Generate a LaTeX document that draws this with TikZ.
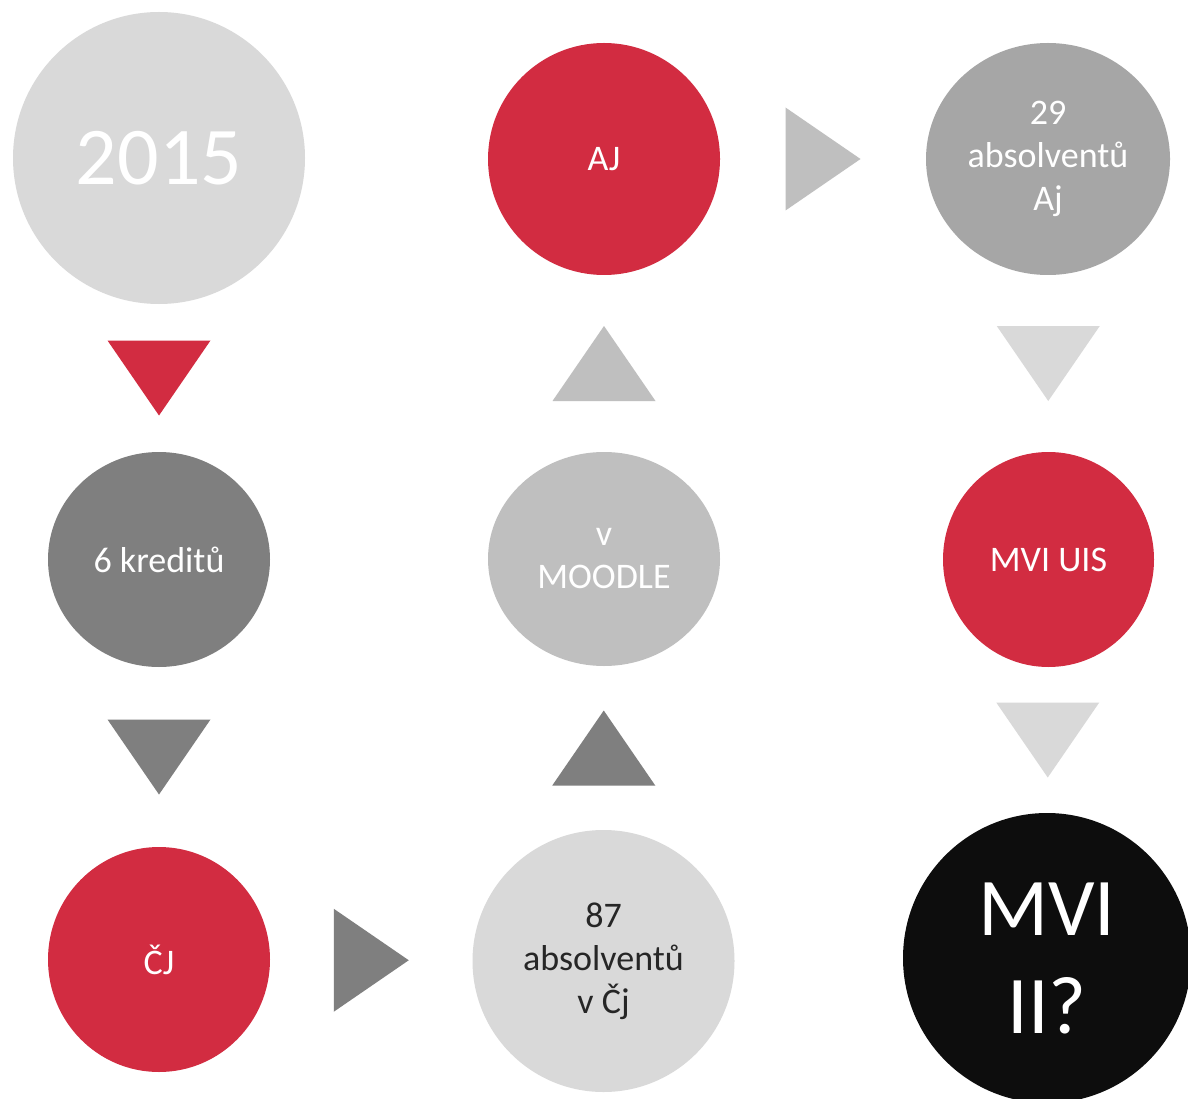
\documentclass[tikz,border=0pt]{standalone}
\usepackage{fontspec}
\setmainfont{Carlito}
\usetikzlibrary{shapes.geometric,calc}
\definecolor{cred}{RGB}{210,44,65}
\definecolor{clight}{HTML}{D9D9D9}
\definecolor{cmid}{HTML}{A6A6A6}
\definecolor{csilver}{HTML}{BFBFBF}
\definecolor{cdark}{HTML}{7F7F7F}
\definecolor{cblack}{HTML}{0D0D0D}
\definecolor{ctext}{HTML}{262626}
\newcommand{\arrowtri}[3]{%
  \fill[#1, shift={#2}, rotate=#3] (-51.5,-37.5) -- (51.5,-37.5) -- (0,37.5) -- cycle;}
\begin{document}
\begin{tikzpicture}[x=1pt,y=-1pt,
  circ/.style={ellipse, inner sep=0pt, align=center, text=white,
    font=\fontsize{36}{43}\selectfont},
  bigcirc/.style={circ, font=\fontsize{82}{98}\selectfont}]
\path[use as bounding box, fill=white] (0,0) rectangle (1188,1099);
\clip (0,0) rectangle (1188,1099);

\node[bigcirc, fill=clight, minimum width=292pt, minimum height=292pt] (y2015) at (159,158) {2015};
\node[circ, fill=cred, minimum width=232pt, minimum height=232pt] (aj) at (604,159) {AJ};
\node[circ, fill=cmid, minimum width=244pt, minimum height=232pt] (a29) at (1048,159) {29\\absolventů\\Aj};
\node[circ, fill=cdark, minimum width=222pt, minimum height=215pt] (kr) at (159,559.5) {6 kreditů};
\node[circ, fill=csilver, minimum width=232pt, minimum height=214pt] (moodle) at (604,559) {v\\MOODLE};
\node[circ, fill=cred, minimum width=211pt, minimum height=215pt] (uis) at (1048.5,559.5) {MVI UIS};
\node[circ, fill=cred, minimum width=222pt, minimum height=225pt] (cj) at (159,959.5) {ČJ};
\node[circ, fill=clight, text=ctext, minimum width=262pt, minimum height=262pt] (a87) at (603.5,961) {87\\absolventů\\v Čj};
\node[bigcirc, fill=cblack, minimum width=288pt, minimum height=290pt] (mvi) at (1047,958) {MVI\\II?};

\arrowtri{cred}{($(y2015.south)!0.5!(kr.north)$)}{0}
\arrowtri{cdark}{($(kr.south)!0.5!(cj.north)$)}{0}
\arrowtri{cdark}{($(cj.east)!0.5!(a87.west)$)}{90}
\arrowtri{cdark}{($(a87.north)!0.5!(moodle.south)$)}{180}
\arrowtri{csilver}{($(moodle.north)!0.5!(aj.south)$)}{180}
\arrowtri{csilver}{($(aj.east)!0.5!(a29.west)$)}{90}
\arrowtri{clight}{($(a29.south)!0.5!(uis.north)$)}{0}
\arrowtri{clight}{($(uis.south)!0.5!(mvi.north)$)}{0}
\end{tikzpicture}
\end{document}
